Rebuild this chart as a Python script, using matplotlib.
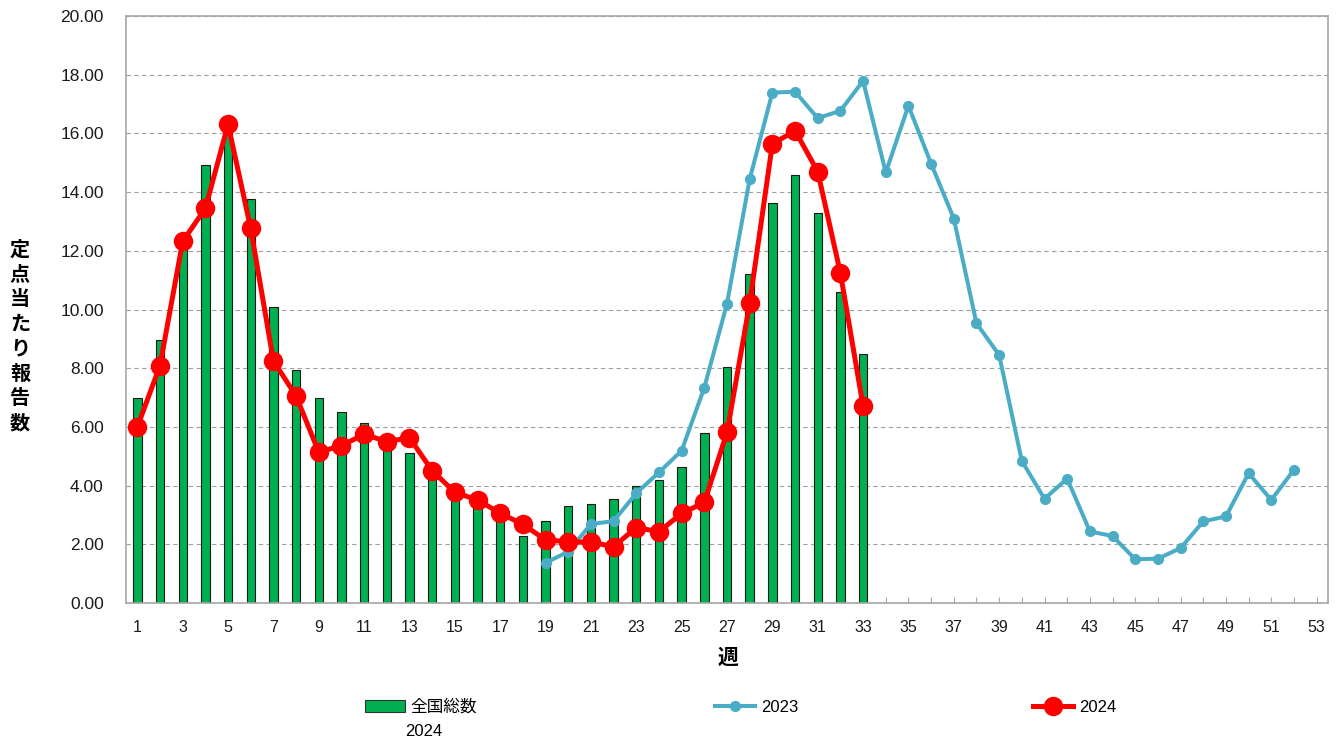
import numpy as np
import matplotlib
matplotlib.use('Agg')
import matplotlib.pyplot as plt
from matplotlib.lines import Line2D
from matplotlib.patches import Patch

plt.rcParams['font.family'] = ['Liberation Sans', 'Noto Sans CJK JP']

## data
weeks_total = np.arange(1, 34)
total_2024 = [7.0, 8.96, 12.2, 14.92, 16.0, 13.75, 10.1, 7.94, 6.97, 6.52, 6.14, 5.4, 5.1,
              4.3, 3.7, 3.4, 2.94, 2.28, 2.78, 3.29, 3.36, 3.54, 3.99, 4.18, 4.62, 5.79,
              8.05, 11.22, 13.62, 14.58, 13.29, 10.60, 8.49]

weeks_2024 = np.arange(1, 34)
line_2024 = [6.0, 8.09, 12.32, 13.45, 16.31, 12.76, 8.25, 7.05, 5.14, 5.36, 5.75, 5.50, 5.63,
             4.51, 3.77, 3.51, 3.06, 2.68, 2.15, 2.09, 2.07, 1.92, 2.57, 2.43, 3.05, 3.43,
             5.81, 10.21, 15.64, 16.09, 14.70, 11.24, 6.71]

weeks_2023 = np.arange(19, 53)
line_2023 = [1.37, 1.75, 2.69, 2.79, 3.74, 4.45, 5.19, 7.34, 10.20, 14.44, 17.39, 17.42,
             16.52, 16.77, 17.79, 14.67, 16.94, 14.97, 13.10, 9.53, 8.45, 4.84, 3.55, 4.24,
             2.44, 2.28, 1.49, 1.51, 1.87, 2.78, 2.95, 4.42, 3.51, 4.54]

x_ticks = np.arange(1, 54)
x_labels = [str(w) if w % 2 == 1 else '' for w in x_ticks]
y_ticks = np.arange(0, 22, 2)

GREEN = '#00B050'
BLUE = '#4BACC6'
RED = '#FF0000'

##
W, H = 1338, 740
fig = plt.figure(figsize=(W / 100, H / 100), dpi=100)
ax = fig.add_axes([126 / W, 1 - 603 / H, (1328 - 126) / W, (603 - 16) / H])

ax.bar(weeks_total, total_2024, width=0.37, color=GREEN, edgecolor='#1a1a1a',
       linewidth=0.8, zorder=2)
ax.plot(weeks_2023, line_2023, color=BLUE, lw=2.9, marker='o', ms=7,
        solid_joinstyle='round', zorder=3)
ax.plot(weeks_2024, line_2024, color=RED, lw=3.6, marker='o', ms=13,
        solid_joinstyle='round', zorder=4)

ax.set_xlim(0.5, 53.5)
ax.set_ylim(0, 20)
ax.set_xticks(x_ticks)
ax.set_xticklabels(x_labels)
ax.set_yticks(y_ticks)
ax.set_yticklabels(['%.2f' % v for v in y_ticks])
ax.tick_params(axis='x', direction='in', length=4, color='#A6A6A6', pad=12,
               labelsize=11.5, labelcolor='#1a1a1a')
ax.tick_params(axis='y', length=0, pad=16, labelsize=12.5, labelcolor='#1a1a1a')
ax.yaxis.grid(True, color='#A0A0A0', linestyle=(0, (4, 3)), linewidth=0.8, zorder=0)
ax.set_axisbelow(True)
for s in ax.spines.values():
    s.set_color('#A6A6A6')
    s.set_linewidth(1.2)

fig.text(20 / W, 1 - 336 / H, '\n'.join('定点当たり報告数'), fontsize=14.5, fontweight='bold',
         ha='center', va='center', linespacing=1.22, family=['Noto Sans CJK JP'])
fig.text(728 / W, 1 - 657 / H, '週', fontsize=15, fontweight='bold', ha='center',
         va='center', family=['Noto Sans CJK JP'])

## legend
leg_kw = dict(frameon=False, loc='center left', borderpad=0, borderaxespad=0,
              handletextpad=0.35, fontsize=12, handlelength=2.4)
fig.legend(handles=[Patch(facecolor=GREEN, edgecolor='#333333', lw=0.8)], labels=['全国総数'],
           bbox_to_anchor=(365 / W, 1 - 707 / H), **leg_kw)
fig.text(405 / W, 1 - 731 / H, '2024', fontsize=12, ha='left', va='center')
fig.legend(handles=[Line2D([], [], color=BLUE, lw=2.9, marker='o', ms=7)], labels=['2023'],
           bbox_to_anchor=(715 / W, 1 - 707 / H), **leg_kw)
fig.legend(handles=[Line2D([], [], color=RED, lw=3.6, marker='o', ms=13)], labels=['2024'],
           bbox_to_anchor=(1033 / W, 1 - 707 / H), **leg_kw)

fig.savefig('out.png', dpi=100)
